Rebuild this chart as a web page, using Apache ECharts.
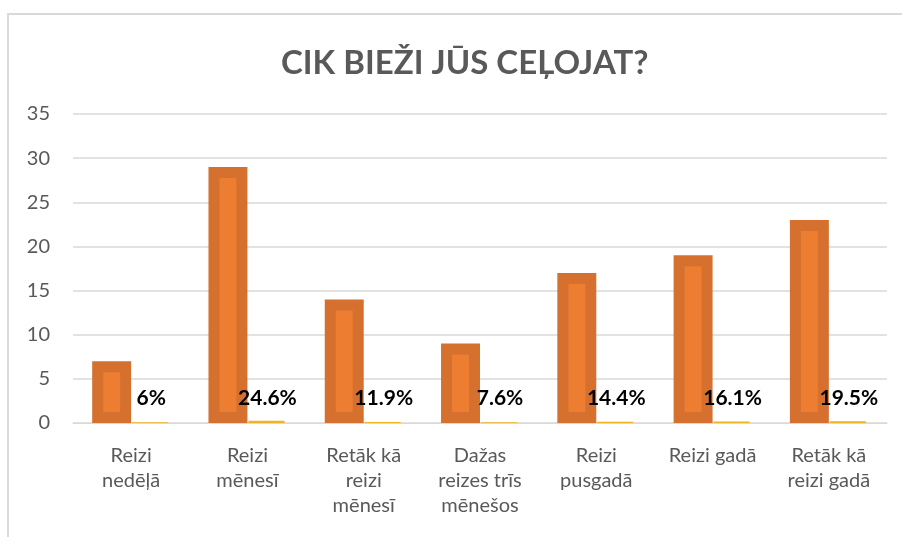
<!DOCTYPE html>
<html>
<head>
<meta charset="utf-8">
<script src="https://cdn.jsdelivr.net/npm/echarts@6/dist/echarts.min.js"></script>
<style>
	html, body { margin: 0; padding: 0; background: #fff; }
	#chart { width: 902px; height: 537px; }
</style>
</head>
<body>
<div id="chart"></div>
<script>
const categories = [
	'Reizi\nnedēļā',
	'Reizi\nmēnesī',
	'Retāk kā\nreizi\nmēnesī',
	'Dažas\nreizes trīs\nmēnešos',
	'Reizi\npusgadā',
	'Reizi gadā',
	'Retāk kā\nreizi gadā'
]
const counts = [7, 29, 14, 9, 17, 19, 23]
const shares = [0.06, 0.246, 0.119, 0.076, 0.144, 0.161, 0.195]
const yTicks = [0, 5, 10, 15, 20, 25, 30, 35]

const node = document.getElementById('chart')
const myChart = echarts.init(node, null, { renderer: 'canvas' })

const font = 'Lato, "Open Sans", sans-serif'

// orange bars with a darker inset frame, sitting left of the category centre
const renderCount = (params, api) => {
	const idx = api.value(0)
	const top = api.coord([idx, api.value(1)])
	const base = api.coord([idx, 0])
	const band = api.size([1, 0])[0]
	const w = band * 0.335
	const x = top[0] - w
	const h = base[1] - top[1]
	const inset = 11
	return {
		type: 'group',
		children: [
			{ type: 'rect', shape: { x: x, y: top[1], width: w, height: h }, style: { fill: '#d5702f' } },
			{
				type: 'rect',
				shape: { x: x + inset, y: top[1] + inset, width: Math.max(w - 2 * inset, 0), height: Math.max(h - 2 * inset, 0) },
				style: { fill: '#ed7d31' }
			}
		]
	}
}

// thin yellow bars right of centre with the percentage label
const renderShare = (params, api) => {
	const idx = api.value(0)
	const v = api.value(1)
	const top = api.coord([idx, v])
	const base = api.coord([idx, 0])
	const band = api.size([1, 0])[0]
	const w = band * 0.31
	const x = top[0] + 1
	const h = Math.max(base[1] - top[1], 0.8)
	const pct = Math.round(v * 1000) / 10
	return {
		type: 'group',
		children: [
			{ type: 'rect', shape: { x: x, y: base[1] - h, width: w, height: h }, style: { fill: '#f0b323' } },
			{
				type: 'text',
				x: x + w / 2 + 1,
				y: base[1] - 14,
				style: {
					text: pct + '%',
					fill: '#000',
					font: 'bold 21px ' + font,
					align: 'center',
					verticalAlign: 'bottom'
				}
			}
		]
	}
}

const option = {
	animation: false,
	title: {
		text: 'CIK BIEŽI JŪS CEĻOJAT?',
		left: 276,
		top: 42,
		textStyle: {
			fontFamily: font,
			fontWeight: 'bold',
			fontSize: 33,
			color: '#595959'
		}
	},
	graphic: [
		{
			type: 'rect',
			shape: { x: 8, y: 14, width: 920, height: 560 },
			style: { fill: 'none', stroke: '#d9d9d9', lineWidth: 2 },
			silent: true
		}
	],
	grid: {
		left: 73,
		right: 15,
		top: 114,
		bottom: 114
	},
	xAxis: {
		type: 'category',
		data: categories,
		axisLine: { lineStyle: { color: '#d9d9d9', width: 1 } },
		axisTick: { show: false },
		axisLabel: {
			interval: 0,
			margin: 20,
			color: '#595959',
			fontFamily: font,
			fontSize: 20,
			lineHeight: 25
		}
	},
	yAxis: {
		type: 'value',
		min: yTicks[0],
		max: yTicks[yTicks.length - 1],
		interval: 5,
		axisLine: { show: false },
		axisTick: { show: false },
		axisLabel: {
			margin: 23,
			color: '#595959',
			fontFamily: font,
			fontSize: 20
		},
		splitLine: { lineStyle: { color: '#d9d9d9', width: 1.5 } }
	},
	series: [
		{
			name: 'Skaits',
			type: 'custom',
			renderItem: renderCount,
			data: counts.map((v, i) => [i, v])
		},
		{
			name: 'Procenti',
			type: 'custom',
			renderItem: renderShare,
			data: shares.map((v, i) => [i, v])
		}
	]
}

myChart.setOption(option)

window.addEventListener('resize', () => {
	myChart.resize()
})
</script>
</body>
</html>
